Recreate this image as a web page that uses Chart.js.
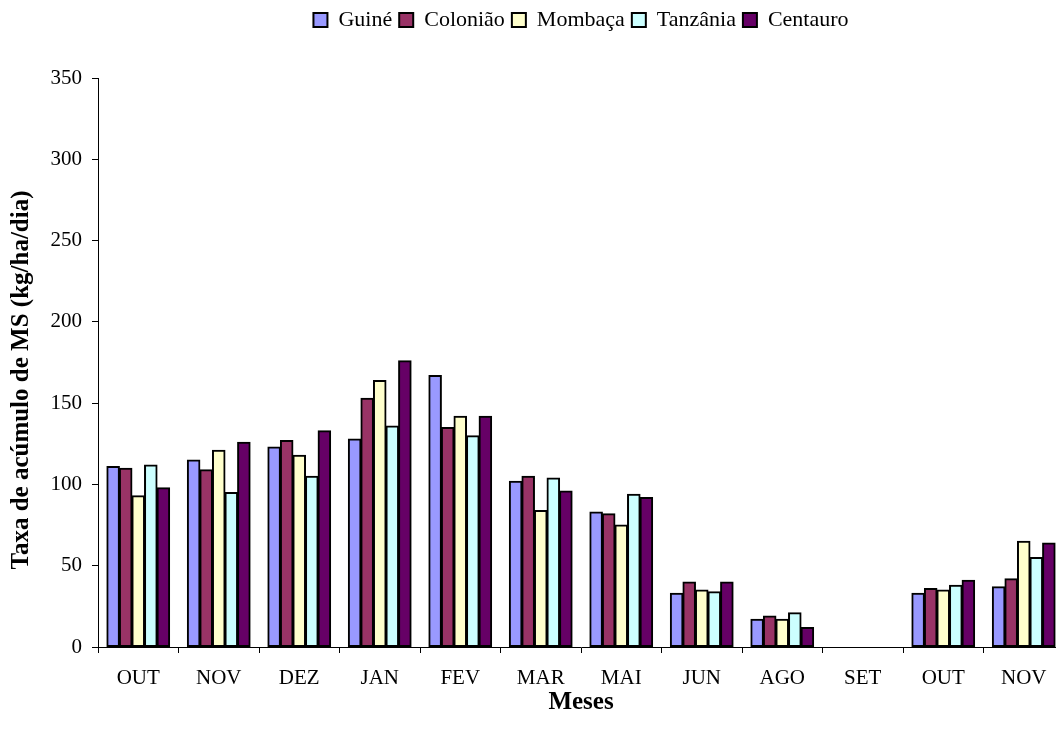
<!DOCTYPE html>
<html lang="pt">
<head>
<meta charset="utf-8">
<title>Taxa de acúmulo de MS</title>
<script src="https://cdn.jsdelivr.net/npm/chart.js@4.4.1/dist/chart.umd.min.js"></script>
<style>
  html, body { margin: 0; padding: 0; background: #fff; overflow: hidden; }
  #wrap { width: 1056px; height: 731px; overflow: hidden; }
  canvas { display: block; }
</style>
</head>
<body>
<div id="wrap"><canvas id="c" width="1080" height="731"></canvas></div>
<script>
// Months on the category axis
const meses = ['OUT', 'NOV', 'DEZ', 'JAN', 'FEV', 'MAR', 'MAI', 'JUN', 'AGO', 'SET', 'OUT', 'NOV'];

// Dry-matter accumulation rate per cultivar (kg/ha/dia)
const guine    = [111, 115, 123, 128, 167, 102, 83, 33, 17, null, 33, 37];
const coloniao = [110, 109, 127, 153, 135, 105, 82, 40, 19, null, 36, 42];
const mombaca  = [ 93, 121, 118, 164, 142,  84, 75, 35, 17, null, 35, 65];
const tanzania = [112,  95, 105, 136, 130, 104, 94, 34, 21, null, 38, 55];
const centauro = [ 98, 126, 133, 176, 142,  96, 92, 40, 12, null, 41, 64];

const seriesNames = ['Guiné', 'Colonião', 'Mombaça', 'Tanzânia', 'Centauro'];
const seriesData  = [guine, coloniao, mombaca, tanzania, centauro];
const seriesColors = ['#9999FF', '#993366', '#FFFFCC', '#CCFFFF', '#660066'];

const yTicks = [0, 50, 100, 150, 200, 250, 300, 350];
const yTitle = 'Taxa de acúmulo de MS (kg/ha/dia)';
const xTitle = 'Meses';

const SERIF = '"Liberation Serif", "Times New Roman", serif';

// Extra space between the legend row and the plot area
const legendGap = {
  id: 'legendGap',
  beforeLayout(chart) {
    const lg = chart.legend;
    if (lg && !lg._gapWrapped) {
      const fit = lg.fit;
      lg.fit = function () { fit.call(this); this.height += 37; };
      lg._gapWrapped = true;
    }
  }
};

// Rotated value-axis title
const yAxisTitle = {
  id: 'yAxisTitle',
  afterDraw(chart) {
    const ctx = chart.ctx;
    ctx.save();
    ctx.translate(22, 380);
    ctx.rotate(-Math.PI / 2);
    ctx.font = 'bold 25px ' + SERIF;
    ctx.fillStyle = '#000';
    ctx.textAlign = 'center';
    ctx.textBaseline = 'middle';
    ctx.fillText(yTitle, 0, 0);
    ctx.restore();
  }
};

new Chart(document.getElementById('c'), {
  type: 'bar',
  data: {
    labels: meses,
    datasets: seriesNames.map((name, i) => ({
      label: name,
      data: seriesData[i],
      backgroundColor: seriesColors[i],
      borderColor: '#000',
      borderWidth: 2,
      borderSkipped: false,
      inflateAmount: 0.5,
      categoryPercentage: 0.78,
      barPercentage: 1.0
    }))
  },
  options: {
    responsive: false,
    devicePixelRatio: 1,
    animation: false,
    datasets: { bar: { categoryPercentage: 0.78, barPercentage: 1.0 } },
    layout: { padding: { top: 2, left: 0, right: 16, bottom: 0 } },
    plugins: {
      legend: {
        position: 'top',
        fullSize: false,
        labels: {
          boxWidth: 14,
          boxHeight: 14,
          padding: 7,
          color: '#000',
          font: { family: SERIF, size: 22 }
        }
      },
      tooltip: { enabled: false }
    },
    scales: {
      x: {
        offset: true,
        afterFit(scale) { scale.height = 84; },
        grid: { display: true, drawOnChartArea: false, tickLength: 6, color: '#000', offset: true },
        border: { color: '#000', width: 1 },
        ticks: { color: '#000', padding: 13, font: { family: SERIF, size: 21 }, maxRotation: 0, autoSkip: false },
        title: { display: true, text: xTitle, color: '#000', font: { family: SERIF, size: 25, weight: 'bold' }, padding: { top: 0, bottom: 13 } }
      },
      y: {
        min: yTicks[0],
        max: yTicks[yTicks.length - 1],
        afterFit(scale) { scale.width = 98; },
        afterBuildTicks(scale) { scale.ticks = yTicks.map(v => ({ value: v })); },
        grid: { display: true, drawOnChartArea: false, tickLength: 6, color: '#000' },
        border: { color: '#000', width: 1 },
        ticks: { color: '#000', padding: 10, font: { family: SERIF, size: 21 } }
      }
    }
  },
  plugins: [legendGap, yAxisTitle]
});
</script>
</body>
</html>
